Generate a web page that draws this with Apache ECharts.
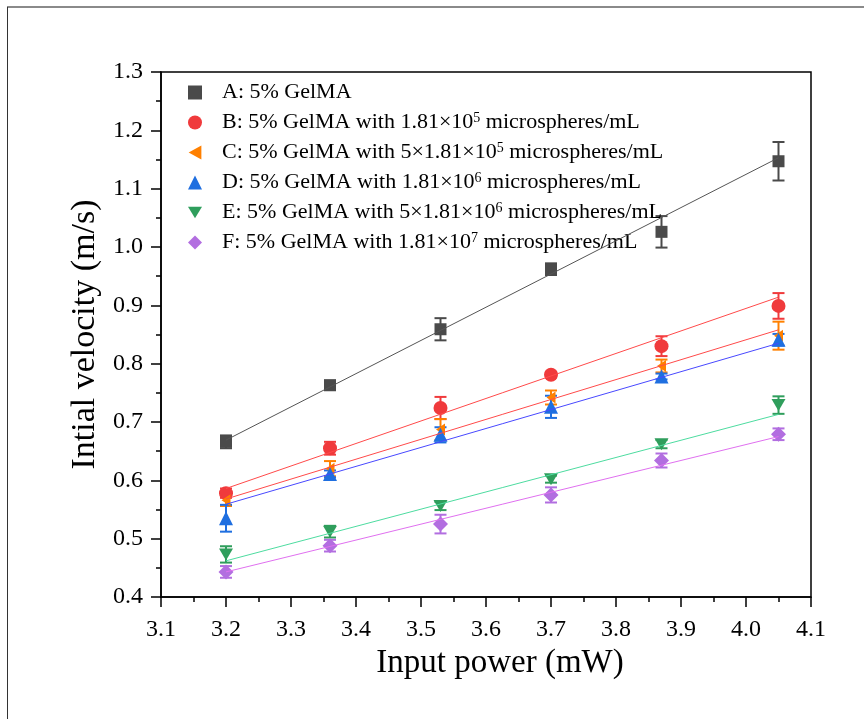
<!DOCTYPE html>
<html>
<head>
    <meta charset="utf-8">
    <title>Initial velocity vs input power</title>
    <script src="https://cdn.jsdelivr.net/npm/echarts@6/dist/echarts.min.js"></script>
    <style>
        html, body { margin: 0; padding: 0; background: #fff; }
    </style>
</head>
<body>
    <div id="main" style="width: 864px;height:719px;"></div>
    <script type="text/javascript">
        // input power (mW)
        var power = [3.2, 3.36, 3.53, 3.70, 3.87, 4.05];

        var names = ['A', 'B', 'C', 'D', 'E', 'F'];
        var labels = [
            'A: 5% GelMA',
            'B: 5% GelMA with 1.81×10{sup|5} microspheres/mL',
            'C: 5% GelMA with 5×1.81×10{sup|5} microspheres/mL',
            'D: 5% GelMA with 1.81×10{sup|6} microspheres/mL',
            'E: 5% GelMA with 5×1.81×10{sup|6} microspheres/mL',
            'F: 5% GelMA with 1.81×10{sup|7} microspheres/mL'
        ];

        // mean velocity (m/s)
        var velA = [0.666, 0.763, 0.859, 0.962, 1.026, 1.147];
        var velB = [0.578, 0.655, 0.724, 0.781, 0.830, 0.899];
        var velC = [0.566, 0.620, 0.687, 0.742, 0.796, 0.848];
        var velD = [0.535, 0.611, 0.678, 0.726, 0.778, 0.841];
        var velE = [0.473, 0.512, 0.556, 0.602, 0.662, 0.729];
        var velF = [0.443, 0.488, 0.525, 0.575, 0.634, 0.679];

        // error (+/-)
        var errA = [0.011, 0.008, 0.019, 0.010, 0.027, 0.033];
        var errB = [0.008, 0.011, 0.019, 0.005, 0.017, 0.022];
        var errC = [0.010, 0.013, 0.018, 0.012, 0.011, 0.024];
        var errD = [0.023, 0.006, 0.013, 0.019, 0.005, 0.010];
        var errE = [0.014, 0.010, 0.007, 0.006, 0.007, 0.015];
        var errF = [0.010, 0.010, 0.016, 0.013, 0.012, 0.010];

        // linear fit ends, read at x = 3.2 and x = 4.05
        var fitX = [3.2, 4.05];
        var fitA = [0.669, 1.153];
        var fitB = [0.586, 0.914];
        var fitC = [0.568, 0.858];
        var fitD = [0.559, 0.835];
        var fitE = [0.462, 0.713];
        var fitF = [0.443, 0.675];

        var vels = [velA, velB, velC, velD, velE, velF];
        var errs = [errA, errB, errC, errD, errE, errF];
        var fits = [fitA, fitB, fitC, fitD, fitE, fitF];

        var markColors = ['#4a4a4a', '#f03a3c', '#ff8000', '#1f6fe0', '#2f9e5c', '#b26ee0'];
        var lineColors = ['#555555', '#ff4a4a', '#ff4a4a', '#4848ff', '#4ddca0', '#e070f0'];
        var triLeft = 'path://M10,0 L10,11 L0,5.5 Z';
        var triDown = 'path://M0,0 L12,0 L6,10 Z';
        var symbols = ['rect', 'circle', triLeft, 'triangle', triDown, 'diamond'];
        var symbolSizes = [12, 14, [9, 12], 14, [14, 12], 15];
        var legendIcons = ['rect', 'circle', triLeft, 'triangle', triDown, 'diamond'];

        var font = 'Liberation Serif';

        var series = [];
        for (var i = 0; i < names.length; i++) {
            var pts = [];
            var bars = [];
            for (var j = 0; j < power.length; j++) {
                pts.push([power[j], vels[i][j]]);
                bars.push([power[j], vels[i][j] - errs[i][j], vels[i][j] + errs[i][j]]);
            }
            // error bars
            series.push({
                type: 'custom',
                name: names[i] + ' err',
                z: 2,
                itemStyle: { color: markColors[i] },
                renderItem: (function (c) {
                    return function (params, api) {
                        var lo = api.coord([api.value(0), api.value(1)]);
                        var hi = api.coord([api.value(0), api.value(2)]);
                        var hw = 6;
                        var st = { stroke: c, lineWidth: 2 };
                        return {
                            type: 'group',
                            children: [
                                { type: 'line', shape: { x1: lo[0], y1: lo[1], x2: hi[0], y2: hi[1] }, style: st },
                                { type: 'line', shape: { x1: lo[0] - hw, y1: lo[1], x2: lo[0] + hw, y2: lo[1] }, style: st },
                                { type: 'line', shape: { x1: hi[0] - hw, y1: hi[1], x2: hi[0] + hw, y2: hi[1] }, style: st }
                            ]
                        };
                    };
                })(markColors[i]),
                encode: { x: 0, y: [1, 2] },
                data: bars
            });
            // points
            series.push({
                type: 'scatter',
                name: names[i],
                z: 3,
                symbol: symbols[i],
                symbolSize: symbolSizes[i],
                itemStyle: { color: markColors[i], opacity: 1 },
                data: pts
            });
            // fit line
            series.push({
                type: 'line',
                name: names[i] + ' fit',
                z: 4,
                symbol: 'none',
                lineStyle: { color: lineColors[i], width: 1 },
                data: [[fitX[0], fits[i][0]], [fitX[1], fits[i][1]]]
            });
        }

        var legendData = names.map(function (n, k) {
            return { name: n, icon: legendIcons[k] };
        });

        var myChart = echarts.init(document.getElementById('main'));

        var option = {
            backgroundColor: '#fff',
            animation: false,
            graphic: [
                { type: 'line', shape: { x1: 7, y1: 7, x2: 864, y2: 7 }, style: { stroke: '#8a8a8a', lineWidth: 2 } },
                { type: 'line', shape: { x1: 7.5, y1: 7, x2: 7.5, y2: 719 }, style: { stroke: '#333', lineWidth: 1 } }
            ],
            grid: {
                left: 161,
                right: 53,
                top: 72,
                bottom: 122,
                show: true,
                borderColor: '#000',
                borderWidth: 1.5
            },
            legend: {
                orient: 'vertical',
                left: 183,
                top: 76,
                itemWidth: 14,
                itemHeight: 14,
                itemGap: 7,
                data: legendData,
                formatter: function (name) {
                    return labels[names.indexOf(name)];
                },
                textStyle: {
                    fontFamily: font,
                    fontSize: 22,
                    color: '#000',
                    lineHeight: 23,
                    padding: [0, 0, 0, 15],
                    rich: {
                        sup: { fontFamily: font, fontSize: 14, lineHeight: 23, verticalAlign: 'top' }
                    }
                }
            },
            xAxis: {
                type: 'value',
                min: 3.1,
                max: 4.1,
                interval: 0.1,
                name: 'Input power (mW)',
                nameLocation: 'middle',
                nameGap: 47,
                nameTextStyle: { fontFamily: font, fontSize: 33, color: '#000', padding: [0, 0, 0, 28] },
                axisLine: { lineStyle: { color: '#000', width: 1.5 } },
                axisTick: { inside: false, length: 10, lineStyle: { color: '#000', width: 1.5 } },
                minorTick: { show: true, splitNumber: 2, length: 5, lineStyle: { color: '#000', width: 1.5 } },
                axisLabel: {
                    margin: 21,
                    fontFamily: font,
                    fontSize: 24,
                    color: '#000',
                    formatter: function (v) { return v.toFixed(1); }
                },
                splitLine: { show: false }
            },
            yAxis: {
                type: 'value',
                min: 0.4,
                max: 1.3,
                interval: 0.1,
                name: 'Intial velocity (m/s)',
                nameLocation: 'middle',
                nameGap: 54,
                nameTextStyle: { fontFamily: font, fontSize: 34, color: '#000' },
                axisLine: { lineStyle: { color: '#000', width: 1.5 } },
                axisTick: { inside: false, length: 10, lineStyle: { color: '#000', width: 1.5 } },
                minorTick: { show: true, splitNumber: 2, length: 5, lineStyle: { color: '#000', width: 1.5 } },
                axisLabel: {
                    margin: 18,
                    fontFamily: font,
                    fontSize: 24,
                    color: '#000',
                    formatter: function (v) { return v.toFixed(1); }
                },
                splitLine: { show: false }
            },
            series: series
        };

        myChart.setOption(option);
    </script>
</body>
</html>
